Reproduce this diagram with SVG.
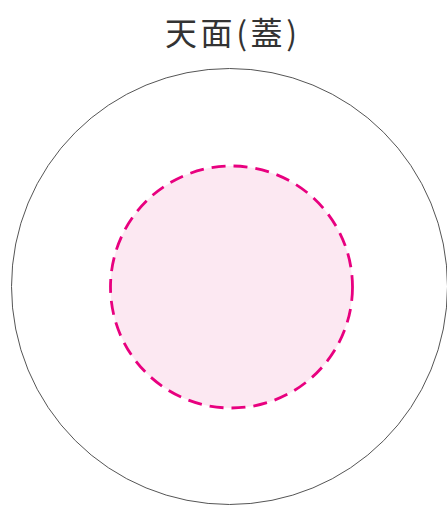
<svg xmlns="http://www.w3.org/2000/svg" width="447" height="507" viewBox="0 0 447 507">
<style>
.title{font-family:"Noto Sans CJK JP","Noto Sans CJK SC",sans-serif;font-size:32px;fill:#333333;text-anchor:middle}
.outer{fill:#ffffff;stroke:#555555;stroke-width:1}
.inner{fill:#fce8f2;stroke:#e8007f;stroke-width:2.8;stroke-dasharray:14 8}
</style>
<rect width="447" height="507" fill="#ffffff"/>
<g id="title"><text class="title" x="231" y="45" textLength="132" lengthAdjust="spacing">天面(蓋)</text></g>
<g id="outer-circle"><circle class="outer" cx="229.5" cy="286.5" r="218"/></g>
<g id="inner-circle"><circle class="inner" cx="231.5" cy="287" r="121"/></g>
<g id="connectors"></g>
</svg>
